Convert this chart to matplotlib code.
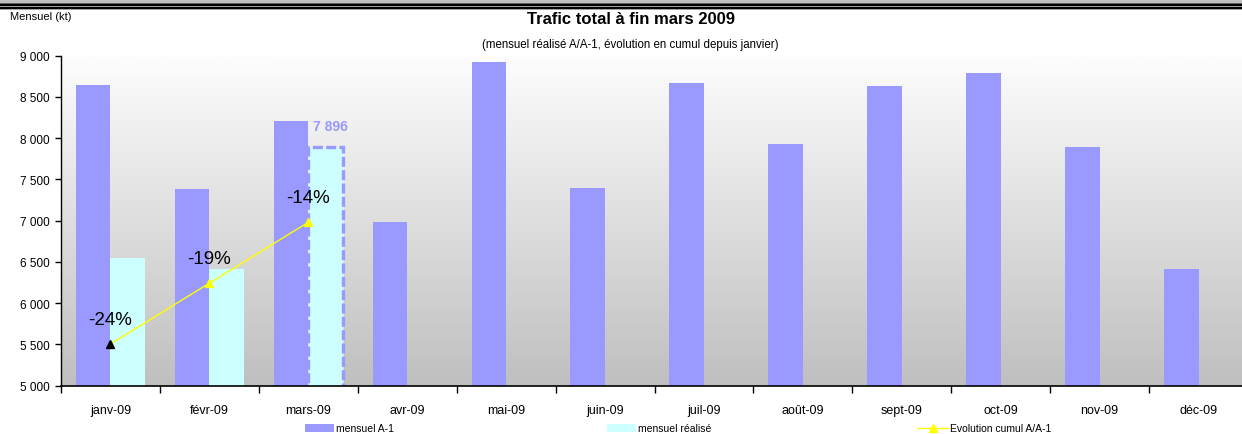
import matplotlib
matplotlib.use("Agg")
import matplotlib.pyplot as plt
import numpy as np
from matplotlib.patches import Rectangle
from matplotlib.lines import Line2D
from matplotlib.colors import LinearSegmentedColormap

plt.rcParams['font.family'] = ['Liberation Sans', 'DejaVu Sans']

months = ["janv-09", "févr-09", "mars-09", "avr-09", "mai-09", "juin-09",
          "juil-09", "août-09", "sept-09", "oct-09", "nov-09", "déc-09"]
mensuel_a1 = [8645, 7385, 8210, 6980, 8925, 7395, 8670, 7930, 8635, 8790, 7895, 6415]
mensuel_realise = [6548, 6415, 7896]
evolution_pct = [-24, -19, -14]
evolution_labels = ["-24%", "-19%", "-14%"]
ytick_vals = [5000, 5500, 6000, 6500, 7000, 7500, 8000, 8500, 9000]
ytick_labels = ["5 000", "5 500", "6 000", "6 500", "7 000", "7 500", "8 000", "8 500", "9 000"]

C_A1 = "#9999ff"
C_REAL = "#ccffff"
C_LINE = "#ffff00"

W, H = 1242, 435
fig = plt.figure(figsize=(W / 100, H / 100), dpi=100)
fig.patch.set_facecolor("white")

def fx(px):
    return px / W

def fy(py):
    return 1 - py / H

# top border stripes
for (y0, y1, c) in [(0, 4, "#c0c0c0"), (4, 5, "#606060"), (5, 7, "#000000"),
                    (7, 8, "#a0a0a0"), (8, 10, "#000000"), (10, 11, "#a0a0a0")]:
    fig.add_artist(Rectangle((0, fy(y1)), 1, (y1 - y0) / H, transform=fig.transFigure,
                             facecolor=c, edgecolor="none"))

left_px, right_px, top_px, bot_px = 61, 1248, 56.7, 386.7
ax = fig.add_axes([fx(left_px), fy(bot_px), fx(right_px - left_px), (bot_px - top_px) / H])

x = np.arange(len(months))
ax.set_xlim(-0.5, len(months) - 0.5)

# gradient background (dark at bottom, light at top)
grad = np.linspace(0, 1, 256).reshape(-1, 1)
cmap = LinearSegmentedColormap.from_list("g", ["#bfbfbf", "#fdfdfd"])
ax.imshow(grad, cmap=cmap, aspect="auto", extent=[-0.5, len(months) - 0.5, 5000, 9000],
          origin="lower", zorder=0)
ax.set_ylim(5000, 9000)

bw = 0.35
ax.bar(x - bw, mensuel_a1, width=bw, align="edge", color=C_A1, zorder=2)
xr = np.arange(len(mensuel_realise))
ax.bar(xr[:-1], mensuel_realise[:-1], width=bw, align="edge", color=C_REAL, zorder=2)
ax.bar(xr[-1:], mensuel_realise[-1:], width=bw, align="edge", color=C_REAL,
       edgecolor=C_A1, linewidth=2.4, linestyle=(0, (3, 1)), zorder=2)
ax.text(xr[-1] + 0.22, mensuel_realise[-1] + 250, "7 896", color=C_A1,
        fontsize=10, fontweight="bold", ha="center", va="center")

ax.set_yticks(ytick_vals)
ax.set_yticklabels(ytick_labels, fontsize=8.5)
ax.set_xticks(x)
ax.set_xticklabels(months, fontsize=9)
ax.tick_params(axis="x", which="major", length=0, pad=13)
ax.set_xticks(np.arange(-0.5, len(months) + 0.5, 1), minor=True)
ax.tick_params(axis="x", which="minor", length=5, width=1, direction="out", color="black")
ax.tick_params(axis="y", length=4, width=1, direction="out", pad=4)
for s in ["top", "right"]:
    ax.spines[s].set_visible(False)
ax.spines["left"].set_linewidth(1)
ax.spines["bottom"].set_linewidth(1.2)

ax2 = ax.twinx()
ax2.set_ylim(-27.42, -0.32)
ax2.axis("off")
ax2.plot(xr, evolution_pct, color=C_LINE, linewidth=1, zorder=3)
mcolors = ["black"] + [C_LINE] * (len(evolution_pct) - 1)
for xi, yi, mc, lab in zip(xr, evolution_pct, mcolors, evolution_labels):
    ax2.plot([xi], [yi], marker="^", markersize=6, color=mc, linestyle="none", zorder=4)
    ax2.annotate(lab, (xi, yi), xytext=(0, 18), textcoords="offset points",
                 ha="center", va="center", fontsize=13.5, color="black")

# titles
fig.text(fx(631), fy(20), "Trafic total à fin mars 2009", ha="center", va="center",
         fontsize=12, fontweight="bold")
fig.text(fx(630), fy(45), "(mensuel réalisé A/A-1, évolution en cumul depuis janvier)",
         ha="center", va="center", fontsize=8.3)
fig.text(fx(10), fy(17), "Mensuel (kt)", ha="left", va="center", fontsize=8)

# legend
ly = 429
fig.add_artist(Rectangle((fx(305), fy(433)), fx(29), 8 / H, transform=fig.transFigure,
                         facecolor=C_A1, edgecolor="none"))
fig.text(fx(336), fy(ly), "mensuel A-1", ha="left", va="center", fontsize=7.5)
fig.add_artist(Rectangle((fx(607), fy(433)), fx(29), 8 / H, transform=fig.transFigure,
                         facecolor=C_REAL, edgecolor="none"))
fig.text(fx(638), fy(ly), "mensuel réalisé", ha="left", va="center", fontsize=7.5)
fig.add_artist(Line2D([fx(917), fx(948)], [fy(ly), fy(ly)], transform=fig.transFigure,
                      color=C_LINE, linewidth=1))
fig.add_artist(Line2D([fx(932.5)], [fy(ly)], transform=fig.transFigure,
                      color=C_LINE, marker="^", markersize=6, linestyle="none"))
fig.text(fx(950), fy(ly), "Evolution cumul A/A-1", ha="left", va="center", fontsize=7.5)

fig.savefig("out.png", dpi=100)
